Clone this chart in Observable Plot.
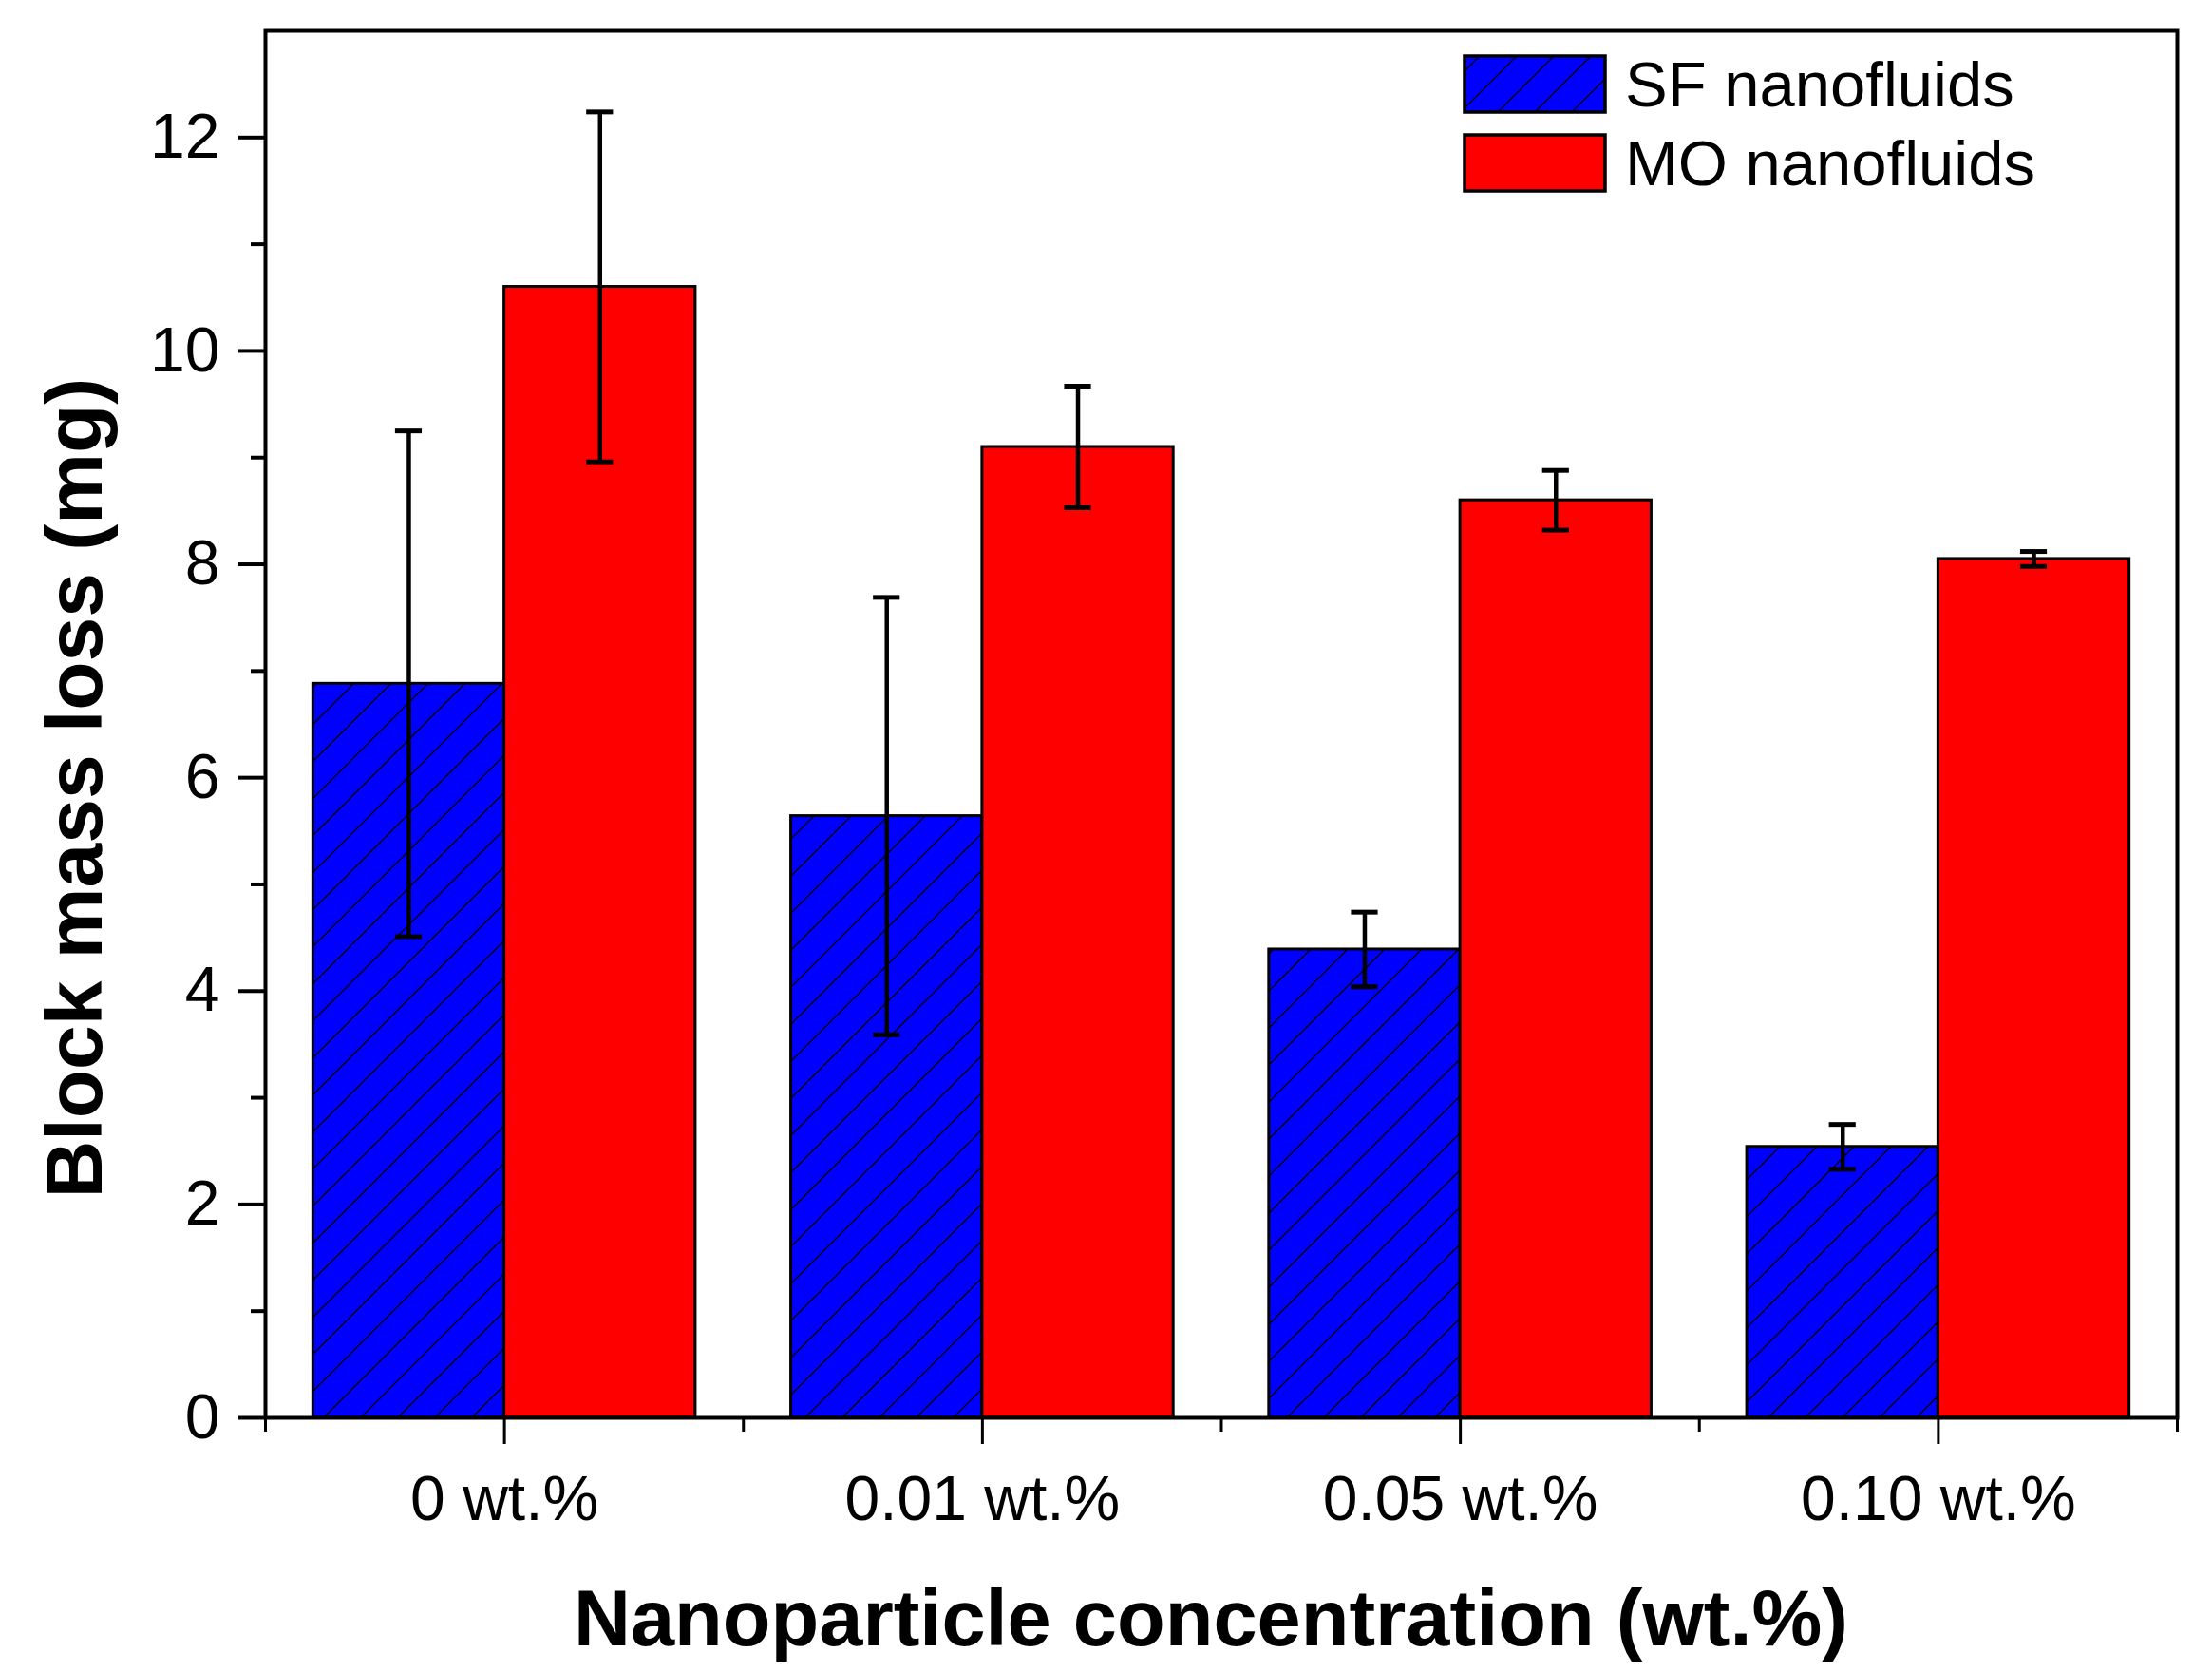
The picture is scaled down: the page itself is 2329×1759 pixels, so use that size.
<!DOCTYPE html>
<html>
<head>
<meta charset="utf-8">
<script src="https://cdn.jsdelivr.net/npm/d3@7"></script>
<script src="https://cdn.jsdelivr.net/npm/@observablehq/plot@0.6"></script>
<style>
  html, body { margin: 0; padding: 0; background: #fff; }
  #wrap { position: relative; width: 2329px; height: 1759px; font-family: Arial, "Liberation Sans", sans-serif; }
  #legend { position: absolute; left: 1530px; top: 48px; }
</style>
</head>
<body>
<div id="wrap"></div>
<script>
// ---- data ----
const categories = ["0 wt.%", "0.01 wt.%", "0.05 wt.%", "0.10 wt.%"];
const seriesNames = ["SF nanofluids", "MO nanofluids"];
const sfValues = [6.88, 5.64, 4.39, 2.54];
const sfErrors = [2.37, 2.05, 0.35, 0.21];
const moValues = [10.60, 9.10, 8.60, 8.05];
const moErrors = [1.64, 0.57, 0.28, 0.07];
const yTicks = [0, 2, 4, 6, 8, 10, 12];
const yMinorTicks = [1, 3, 5, 7, 9, 11];
const xLabel = "Nanoparticle concentration (wt.%)";
const yLabel = "Block mass loss (mg)";

// ---- table built from arrays ----
const barW = 0.4;       // each bar occupies 0.4 of a category step
const capHalf = 0.028;  // half width of error-bar caps (in category steps)
const rows = categories.flatMap((c, i) => [
  {i, cat: c, series: seriesNames[0], side: -1, value: sfValues[i], err: sfErrors[i]},
  {i, cat: c, series: seriesNames[1], side: 1, value: moValues[i], err: moErrors[i]}
]);
const x1 = d => d.side < 0 ? d.i - barW : d.i;
const x2 = d => d.side < 0 ? d.i : d.i + barW;
const xc = d => d.i + d.side * barW / 2;
const sf = rows.filter(d => d.side < 0);
const mo = rows.filter(d => d.side > 0);
const majorX = categories.map((c, i) => i);
const minorX = d3.range(-0.5, categories.length, 1);

const FONT = 'Arial, "Liberation Sans", sans-serif';

const plot = Plot.plot({
  width: 2329,
  height: 1759,
  marginLeft: 279,
  marginRight: 37,
  marginTop: 32,
  marginBottom: 267,
  style: {fontFamily: FONT, color: "black", background: "white", overflow: "visible"},
  x: {type: "linear", domain: [-0.5, categories.length - 0.5]},
  y: {domain: [0, 13]},
  marks: [
    Plot.rect(sf, {x1, x2, y1: 0, y2: "value", fill: "url(#hatch)", stroke: "black", strokeWidth: 3}),
    Plot.rect(mo, {x1, x2, y1: 0, y2: "value", fill: "#FF0000", stroke: "black", strokeWidth: 3}),
    Plot.ruleX(rows, {x: xc, y1: d => d.value - d.err, y2: d => d.value + d.err, stroke: "black", strokeWidth: 4.5}),
    Plot.ruleY(rows, {y: d => d.value + d.err, x1: d => xc(d) - capHalf, x2: d => xc(d) + capHalf, stroke: "black", strokeWidth: 5}),
    Plot.ruleY(rows, {y: d => d.value - d.err, x1: d => xc(d) - capHalf, x2: d => xc(d) + capHalf, stroke: "black", strokeWidth: 5}),
    Plot.frame({stroke: "black", strokeWidth: 4}),
    Plot.axisY({ticks: yTicks, tickSize: 28, tickPadding: 20, fontSize: 66, strokeWidth: 4, label: null, tickFormat: d3.format("d")}),
    Plot.axisY({ticks: yMinorTicks, tickSize: 15, fontSize: 66, strokeWidth: 4, label: null, tickFormat: () => ""}),
    Plot.axisX({ticks: majorX, tickSize: 28, tickPadding: 33, fontSize: 66, strokeWidth: 3, label: null, tickFormat: i => categories[i]}),
    Plot.axisX({ticks: minorX, tickSize: 15, fontSize: 66, strokeWidth: 3, label: null, tickFormat: () => ""}),
    Plot.text([yLabel], {frameAnchor: "left", rotate: -90, dx: -199, dy: 67, textAnchor: "middle", lineAnchor: "middle", fontSize: 84, fontWeight: "bold"}),
    Plot.text([xLabel], {frameAnchor: "bottom", dx: -11, dy: 213, textAnchor: "middle", lineAnchor: "middle", fontSize: 83, fontWeight: "bold"})
  ]
});

// hatch pattern for SF bars
const defs = d3.select(plot).insert("defs", ":first-child");
function addHatch(sel, id) {
  const p = sel.append("pattern").attr("id", id).attr("patternUnits", "userSpaceOnUse")
    .attr("width", 39).attr("height", 39);
  p.append("rect").attr("width", 39).attr("height", 39).attr("fill", "#0000FF");
  p.append("path").attr("d", "M-10,10L10,-10M0,39L39,0M29,49L49,29")
    .attr("stroke", "#000018").attr("stroke-width", 1.5).attr("fill", "none");
}
addHatch(defs, "hatch");

const wrap = document.getElementById("wrap");
wrap.appendChild(plot);

// legend
const leg = d3.select(wrap).append("svg").attr("id", "legend")
  .attr("width", 720).attr("height", 170).style("font-family", FONT);
addHatch(leg.append("defs"), "hatchLeg");
const legFills = ["url(#hatchLeg)", "#FF0000"];
seriesNames.forEach((name, k) => {
  const y0 = 11 + k * 83;
  leg.append("rect").attr("x", 12).attr("y", y0).attr("width", 148).attr("height", 59)
    .attr("fill", legFills[k]).attr("stroke", "black").attr("stroke-width", 3.5);
  leg.append("text").attr("x", 181).attr("y", y0 + 30).attr("dy", "0.35em")
    .attr("font-size", 67).attr("fill", "black").text(name);
});
</script>
</body>
</html>
